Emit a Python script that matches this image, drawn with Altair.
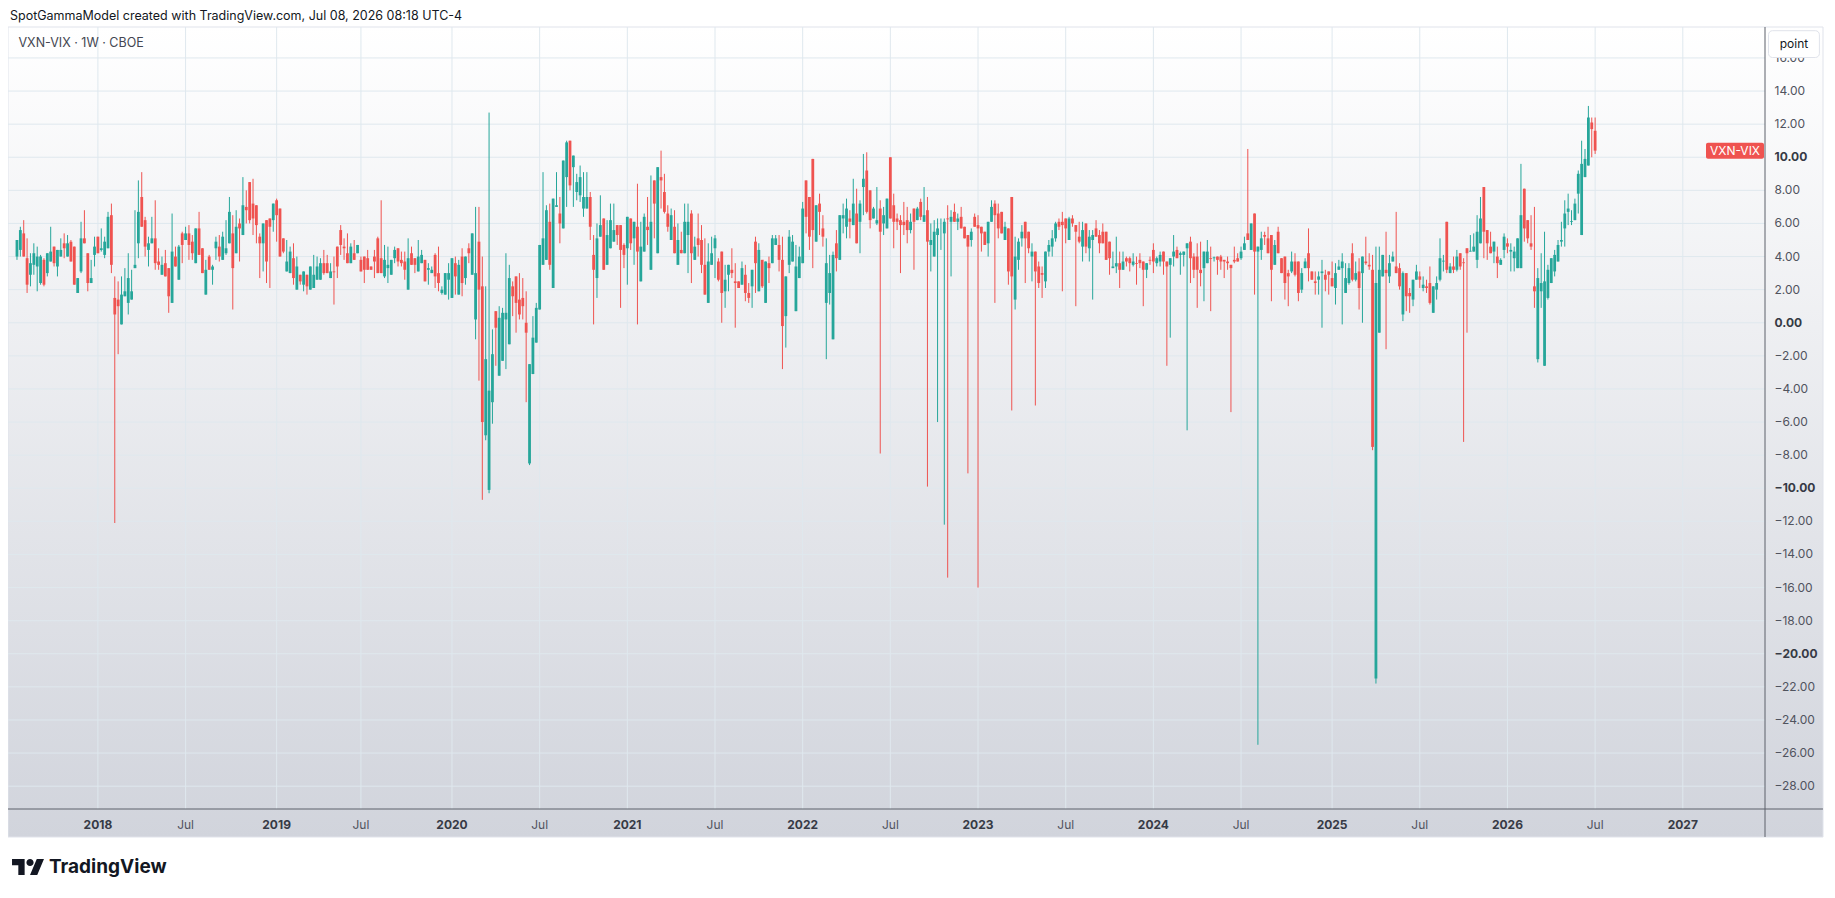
import altair as alt
import pandas as pd

FIRST_BAR = "2017-07-17"   # weekly bars (Mondays)

OPEN = [
 4.0, 4.4, 5.4, 3.9, 2.9, 3.5, 3.4, 2.4, 3.8, 3.0,
 3.7, 4.6, 3.4, 4.0, 4.8, 4.0, 4.9, 4.6, 1.8, 3.1,
 5.1, 4.2, 2.4, 4.1, 5.2, 4.4, 4.1, 4.5, 6.5, 1.5,
 1.4, -0.1, 1.6, 1.2, 1.4, 3.3, 4.8, 7.6, 6.2, 4.4,
 4.8, 5.1, 3.7, 2.9, 3.6, 3.3, 1.2, 4.0, 2.6, 5.4,
 5.0, 5.4, 4.9, 3.6, 5.7, 4.5, 1.7, 4.0, 3.2, 4.5,
 4.6, 3.8, 4.2, 4.8, 5.4, 4.2, 6.0, 5.3, 7.0, 8.5,
 7.2, 7.1, 5.2, 4.8, 6.2, 6.3, 6.2, 7.4, 6.9, 5.1,
 3.1, 3.0, 3.9, 2.0, 2.9, 2.3, 2.9, 2.0, 2.1, 2.6,
 2.6, 3.6, 3.6, 2.7, 3.1, 4.6, 5.6, 4.6, 4.2, 3.6,
 4.2, 4.2, 3.8, 4.0, 3.9, 3.4, 4.0, 5.1, 3.9, 2.8,
 3.3, 2.9, 3.9, 4.5, 3.8, 3.7, 2.0, 4.2, 3.9, 3.1,
 3.6, 3.8, 3.2, 3.0, 4.1, 3.0, 1.8, 1.7, 2.6, 1.5,
 3.6, 1.7, 4.0, 2.7, 4.5, 2.9, 0.2, 4.9, 2.2, -6.8,
 -10.1, -4.8, 0.7, -3.2, -2.3, 0.2, -1.3, 2.2, 2.8, 1.4,
 1.5, 0.0, -8.5, -3.1, -1.2, 0.8, 3.5, 3.8, 6.1, 2.1,
 7.0, 6.6, 5.7, 8.8, 11.0, 9.4, 7.9, 7.7, 6.9, 6.9,
 7.6, 4.1, 2.7, 5.2, 6.3, 3.5, 4.5, 4.9, 5.9, 5.9,
 4.7, 4.5, 6.3, 5.1, 5.8, 2.5, 4.3, 5.8, 3.2, 8.6,
 4.2, 8.8, 7.9, 6.6, 5.0, 5.8, 3.5, 4.4, 4.2, 5.3,
 6.6, 3.8, 5.1, 5.0, 3.5, 1.2, 3.5, 4.5, 3.7, 4.3,
 1.9, 2.9, 3.2, 2.5, 2.5, 2.3, 2.9, 1.8, 2.2, 4.9,
 1.9, 3.8, 1.2, 3.6, 3.6, 4.7, 4.7, 3.8, 0.4, 3.5,
 3.7, 0.7, 2.7, 3.6, 8.6, 7.6, 9.9, 4.9, 7.2, 5.7,
 1.2, 1.8, -1.0, 4.8, 3.8, 6.3, 5.8, 6.3, 5.9, 6.6,
 6.1, 8.2, 9.2, 8.0, 6.3, 6.0, 6.9, 6.0, 5.7, 10.0,
 7.1, 6.3, 6.2, 6.1, 6.2, 5.6, 6.9, 6.2, 7.3, 6.1,
 6.8, 4.7, 4.0, 5.3, 5.5, 5.4, 6.3, 6.1, 6.7, 6.1,
 6.4, 5.8, 5.3, 5.0, 6.4, 5.9, 5.8, 5.5, 4.8, 6.1,
 7.2, 6.6, 6.7, 5.0, 5.7, 7.6, 1.4, 3.8, 5.1, 6.1,
 5.5, 4.0, 4.3, 3.4, 3.0, 2.5, 4.3, 4.6, 5.1, 6.1,
 6.1, 6.3, 5.0, 6.3, 5.9, 5.2, 4.6, 6.0, 4.5, 5.0,
 5.7, 5.3, 5.5, 5.5, 4.9, 3.3, 3.4, 3.6, 3.2, 3.9,
 3.9, 3.5, 3.6, 3.8, 3.7, 3.2, 3.8, 4.4, 3.6, 3.7,
 4.3, 3.7, 3.5, 4.0, 4.4, 4.1, 4.1, 4.5, 4.9, 4.0,
 4.0, 3.2, 3.3, 3.6, 3.9, 3.9, 4.0, 4.0, 3.8, 3.7,
 3.5, 3.8, 3.9, 3.9, 4.4, 5.4, 4.4, 6.6, 4.3, 4.4,
 5.3, 5.1, 5.3, 3.5, 5.5, 3.9, 4.0, 3.0, 3.1, 3.7,
 3.7, 2.0, 3.3, 4.2, 3.1, 2.5, 2.6, 3.0, 2.9, 3.1,
 2.7, 2.1, 3.2, 3.3, 1.8, 2.4, 4.2, 2.6, 3.1, 3.0,
 3.7, 3.5, 3.2, -21.5, -0.6, 2.8, 3.2, 2.8, 3.7, 3.4,
 3.3, 0.5, 3.0, 1.8, 1.4, 2.6, 2.8, 2.1, 2.2, 2.4,
 0.6, 2.0, 2.6, 3.7, 6.1, 3.0, 3.4, 3.2, 4.2, 3.65,
 4.5, 4.3, 4.3, 3.8, 4.8, 8.2, 5.6, 4.6, 4.3, 4.0,
 3.5, 4.4, 4.8, 4.3, 3.9, 3.3, 3.3, 8.1, 6.2, 4.8,
 2.2, -2.2, 1.9, -2.6, 1.5, 2.4, 3.1, 3.7, 4.9, 5.7,
 6.7, 6.1, 6.2, 7.8, 5.3, 8.8, 9.5, 12.1, 11.6,
]

HIGH = [
 5.0, 5.8, 6.2, 5.1, 4.2, 4.8, 4.6, 4.1, 3.9, 4.2,
 5.8, 4.6, 4.4, 5.1, 5.4, 5.3, 5.0, 4.6, 2.7, 6.1,
 6.8, 4.2, 3.8, 5.2, 5.2, 5.7, 5.2, 6.7, 7.2, 2.8,
 2.5, 2.8, 3.3, 4.2, 3.2, 6.8, 8.6, 9.1, 6.4, 5.2,
 6.4, 7.4, 4.5, 4.0, 4.4, 3.3, 6.6, 4.6, 4.7, 5.5,
 5.8, 5.9, 5.3, 5.7, 6.7, 4.5, 3.8, 4.1, 3.5, 5.2,
 5.3, 5.5, 6.2, 7.6, 6.5, 6.8, 6.3, 8.8, 8.0, 8.5,
 8.7, 7.1, 5.4, 6.0, 6.2, 6.3, 7.2, 7.5, 6.9, 5.1,
 5.0, 4.6, 4.8, 4.0, 2.9, 3.1, 2.9, 3.4, 4.1, 4.0,
 3.9, 4.4, 4.1, 3.6, 4.0, 4.6, 5.9, 5.1, 5.4, 4.8,
 5.0, 4.7, 4.0, 4.0, 4.4, 3.4, 4.4, 5.2, 7.4, 4.7,
 4.6, 3.8, 4.6, 4.5, 4.3, 4.3, 5.1, 4.6, 3.9, 5.0,
 4.4, 3.8, 3.6, 3.4, 4.2, 4.6, 2.2, 3.0, 3.6, 3.9,
 4.0, 3.8, 4.5, 4.0, 4.8, 5.4, 7.0, 7.0, 4.0, 2.2,
 12.7, -0.4, 0.7, 1.0, 0.9, 4.2, 3.5, 2.5, 2.8, 3.0,
 2.7, 1.9, -2.5, 0.4, 1.2, 4.7, 9.1, 7.1, 7.2, 7.5,
 9.1, 7.6, 9.8, 11.0, 11.0, 10.1, 9.0, 9.5, 9.1, 9.1,
 7.9, 5.3, 6.0, 7.7, 6.3, 6.2, 7.2, 7.2, 5.9, 5.9,
 4.8, 6.4, 6.3, 6.1, 8.4, 6.1, 6.6, 7.6, 8.9, 8.6,
 9.4, 10.4, 9.0, 7.1, 6.9, 6.8, 6.0, 5.5, 7.2, 7.2,
 6.8, 5.2, 6.6, 5.9, 5.1, 4.8, 5.2, 5.3, 3.9, 4.3,
 3.5, 3.5, 4.5, 3.6, 2.5, 3.7, 3.5, 2.4, 3.2, 5.2,
 4.8, 3.8, 3.7, 4.0, 5.3, 5.3, 5.3, 5.2, 2.8, 5.6,
 5.3, 4.7, 4.6, 7.3, 8.6, 7.6, 9.9, 7.1, 7.8, 6.5,
 5.1, 4.1, 4.3, 5.6, 6.5, 7.2, 7.5, 6.8, 8.7, 8.1,
 7.4, 10.2, 10.3, 8.0, 7.0, 8.2, 7.4, 7.0, 7.5, 10.0,
 7.8, 6.6, 6.5, 7.3, 7.0, 6.6, 6.9, 7.0, 7.5, 8.2,
 7.6, 6.0, 6.2, 6.3, 6.3, 6.3, 7.1, 6.8, 7.2, 6.6,
 7.0, 5.8, 5.3, 5.7, 6.6, 6.5, 5.8, 5.5, 6.1, 7.4,
 7.4, 7.2, 6.7, 6.1, 5.7, 7.6, 5.2, 5.1, 5.9, 6.1,
 5.5, 4.8, 4.3, 3.7, 3.4, 4.3, 5.0, 5.6, 6.1, 6.3,
 6.7, 6.3, 6.4, 6.5, 5.9, 6.1, 6.1, 6.0, 5.6, 5.6,
 6.2, 5.6, 6.0, 5.5, 4.9, 4.3, 5.2, 4.3, 4.3, 4.0,
 4.0, 4.2, 4.0, 4.2, 3.7, 3.6, 4.0, 4.8, 4.0, 4.3,
 4.3, 3.7, 3.9, 5.3, 4.6, 4.3, 4.3, 4.8, 5.2, 4.2,
 4.8, 4.9, 4.3, 5.0, 4.6, 4.0, 4.0, 4.1, 3.8, 4.0,
 3.5, 4.6, 4.2, 4.6, 5.2, 10.5, 6.0, 6.6, 4.6, 5.5,
 5.5, 5.8, 5.3, 5.0, 5.8, 3.9, 4.0, 3.2, 4.3, 4.2,
 3.7, 3.3, 3.9, 5.7, 3.1, 3.1, 3.1, 3.8, 3.2, 3.1,
 3.7, 3.6, 3.8, 4.2, 3.6, 3.6, 4.8, 3.7, 3.9, 4.0,
 5.2, 4.2, 4.1, 4.6, 4.6, 4.1, 5.5, 4.1, 4.3, 6.7,
 3.6, 3.1, 3.0, 2.1, 2.6, 3.5, 3.1, 2.8, 2.6, 3.4,
 2.2, 2.8, 5.1, 4.1, 6.1, 3.6, 4.0, 4.4, 4.2, 3.9,
 4.5, 5.3, 5.4, 6.5, 7.6, 8.2, 5.6, 5.5, 4.9, 4.6,
 3.9, 5.4, 5.1, 4.8, 4.6, 5.1, 9.6, 8.1, 6.2, 6.5,
 7.0, 3.3, 4.2, 5.5, 3.5, 3.9, 4.4, 5.0, 6.1, 7.4,
 7.8, 6.8, 7.5, 9.2, 11.0, 10.5, 13.1, 12.4, 12.4,
]

LOW = [
 3.8, 4.0, 4.0, 1.8, 2.2, 2.9, 1.9, 2.3, 2.2, 2.8,
 3.7, 3.4, 2.8, 4.0, 3.9, 4.0, 3.7, 2.3, 1.8, 3.0,
 4.8, 1.9, 2.4, 3.4, 4.2, 4.3, 3.9, 4.5, 3.0, -12.1,
 -1.9, -0.1, 1.6, 0.5, 1.4, 3.3, 3.9, 5.8, 4.0, 3.4,
 4.8, 3.2, 3.2, 2.9, 2.8, 0.6, 1.2, 3.4, 2.6, 3.6,
 5.0, 3.8, 3.8, 3.6, 4.1, 3.0, 1.7, 3.2, 2.3, 3.8,
 3.7, 3.8, 4.1, 4.8, 0.8, 4.2, 3.7, 5.3, 6.0, 6.0,
 5.3, 4.8, 2.7, 3.1, 2.4, 2.1, 5.5, 4.9, 4.0, 4.2,
 3.1, 3.0, 2.3, 2.0, 2.3, 1.9, 1.7, 2.0, 2.1, 2.6,
 2.6, 2.9, 3.0, 2.7, 1.1, 2.7, 4.1, 3.8, 3.6, 3.6,
 3.8, 4.2, 3.1, 2.4, 3.2, 3.2, 2.7, 3.0, 3.0, 2.7,
 2.4, 2.9, 3.6, 3.4, 3.4, 2.6, 2.0, 3.5, 3.0, 3.1,
 3.6, 2.5, 2.3, 3.0, 2.1, 1.9, 1.7, 1.7, 1.4, 1.5,
 1.7, 1.7, 1.6, 2.3, 3.6, 2.9, -1.0, -3.5, -10.7, -7.1,
 -10.3, -6.1, -2.6, -3.2, -2.3, -2.8, -1.3, 0.4, -0.6, 0.2,
 0.2, -4.8, -8.6, -3.1, -1.2, 0.8, 3.5, 3.8, 3.2, 2.1,
 7.0, 4.8, 5.7, 7.0, 8.0, 7.0, 7.4, 7.3, 6.4, 6.9,
 5.0, -0.1, 1.5, 5.2, 3.2, 3.5, 4.5, 4.9, 4.7, 0.9,
 3.3, 2.3, 4.4, 3.5, -0.1, 2.5, 4.3, 4.7, 3.2, 5.1,
 4.2, 6.9, 6.6, 5.5, 5.0, 4.2, 3.5, 4.2, 4.2, 3.0,
 2.4, 3.8, 4.0, 3.0, 1.7, 1.2, 3.5, 2.7, 2.5, 0.0,
 0.9, 1.9, 2.7, -0.3, 2.1, 2.3, 1.3, 1.2, 0.9, 1.8,
 1.9, 2.1, 1.2, 2.4, 3.6, 4.7, 3.1, -2.8, -1.5, 3.0,
 3.7, 0.7, 2.7, 3.6, 5.4, 4.4, 3.3, 4.9, 5.3, 4.6,
 -2.2, 1.1, -1.0, 3.1, 3.8, 5.4, 5.1, 5.1, 5.9, 4.8,
 4.2, 6.5, 6.6, 5.7, 6.3, 5.9, -7.9, 5.3, 5.7, 6.3,
 4.5, 5.6, 3.0, 5.3, 4.8, 5.4, 3.2, 6.2, 6.2, 6.1,
 -9.9, 3.1, 4.0, -6.0, 4.4, -12.2, -15.4, 2.8, 6.1, 5.6,
 5.7, 5.1, -9.1, 4.6, 5.8, -16.0, 4.3, 4.7, 4.0, 6.1,
 1.2, 5.1, 5.4, 5.0, 2.3, -5.3, 0.8, 3.2, 4.6, 2.4,
 4.2, 2.5, -5.0, 2.1, 1.5, 2.1, 4.0, 4.0, 4.9, 5.6,
 1.9, 4.8, 5.0, 5.8, 1.0, 4.8, 3.7, 4.2, 3.7, 1.4,
 5.2, 4.2, 4.8, 3.8, 2.9, 3.3, 3.0, 2.1, 3.2, 3.4,
 3.1, 3.4, 2.3, 3.3, 1.0, 2.7, 3.5, 3.0, 3.4, 3.4,
 2.9, -2.6, -0.9, 3.4, 3.9, 2.9, 3.4, -6.5, 2.4, 2.7,
 0.9, 2.2, 1.3, 3.6, 0.7, 3.7, 2.9, 3.2, 2.7, 3.2,
 -5.4, 3.6, 3.7, 3.8, 4.4, 5.0, 4.4, 1.7, -25.5, 3.8,
 4.7, 4.2, 1.3, 3.5, 4.2, 3.0, 1.4, 1.0, 3.0, 2.8,
 1.3, 1.8, 3.3, 2.5, 2.6, 1.7, 1.7, -0.3, 1.9, 1.7,
 2.2, 1.1, 3.2, -0.1, 1.8, 2.3, 2.5, 2.5, 0.8, 0.0,
 3.5, 3.2, -7.7, -21.8, -0.6, 2.8, -1.6, 2.4, 3.7, 3.0,
 2.0, 0.1, 0.7, 0.6, 1.0, 2.6, 2.1, 1.9, 1.8, 1.1,
 0.6, 1.4, 2.5, 3.1, 3.0, 3.0, 3.0, 3.1, 3.2, -7.2,
 -0.6, 4.3, 4.3, 3.3, 4.8, 3.9, 3.8, 4.2, 3.6, 2.7,
 3.5, 3.9, 4.2, 3.1, 3.1, 3.3, 3.3, 4.9, 4.8, 4.4,
 0.9, -2.4, 0.9, -2.6, 1.4, 2.4, 2.8, 3.7, 4.6, 4.6,
 5.9, 5.9, 6.2, 6.6, 5.3, 8.8, 9.5, 10.0, 10.2,
]

CLOSE = [
 5.0, 5.6, 4.0, 2.3, 3.6, 4.2, 4.0, 4.0, 2.3, 4.2,
 4.3, 3.6, 4.4, 4.4, 4.5, 4.8, 3.7, 2.3, 2.7, 5.1,
 4.8, 2.4, 2.7, 4.6, 4.2, 4.5, 4.9, 6.4, 3.5, 0.5,
 1.0, 1.7, 1.9, 2.7, 1.9, 3.5, 6.7, 5.8, 4.6, 4.8,
 5.1, 3.6, 3.5, 3.5, 2.8, 1.6, 4.3, 3.4, 4.6, 4.7,
 5.4, 4.7, 4.2, 5.7, 4.1, 3.0, 3.2, 3.2, 3.4, 4.9,
 4.0, 5.2, 4.5, 6.7, 3.3, 5.8, 5.7, 7.1, 6.8, 6.2,
 6.3, 5.9, 4.8, 6.0, 3.7, 5.8, 7.2, 6.5, 4.0, 4.3,
 3.7, 4.3, 2.7, 3.4, 2.5, 3.1, 2.2, 3.4, 2.9, 3.4,
 3.6, 3.0, 3.0, 3.1, 3.05, 3.4, 4.7, 4.5, 3.6, 4.6,
 3.8, 4.7, 3.1, 3.2, 3.2, 3.2, 3.7, 3.0, 3.0, 3.8,
 3.5, 3.8, 4.4, 3.7, 3.6, 3.2, 3.9, 3.5, 3.5, 4.0,
 4.1, 2.5, 3.3, 3.2, 2.8, 2.4, 2.0, 3.0, 3.0, 3.9,
 2.8, 3.5, 2.4, 4.0, 4.2, 5.4, 3.0, 2.0, -6.0, -2.2,
 -4.1, -1.9, -0.3, 0.3, 0.6, 0.6, 2.7, 1.6, 1.2, 0.5,
 1.0, -0.6, -2.5, -0.9, 0.9, 4.7, 5.1, 6.8, 3.5, 7.5,
 7.1, 6.0, 9.8, 10.9, 8.3, 10.1, 8.5, 8.8, 7.6, 7.6,
 5.8, 3.2, 5.1, 5.9, 3.2, 5.3, 6.2, 5.6, 5.3, 4.4,
 4.1, 6.4, 4.8, 6.1, 4.3, 4.6, 6.4, 5.6, 6.1, 7.2,
 9.4, 8.6, 6.7, 5.8, 6.5, 4.2, 5.0, 4.2, 6.1, 6.1,
 4.2, 4.6, 4.7, 3.5, 1.7, 3.7, 4.2, 5.1, 2.6, 1.8,
 2.6, 3.5, 3.0, 2.4, 2.1, 3.3, 1.8, 1.5, 3.2, 3.6,
 4.4, 2.2, 3.7, 3.3, 5.1, 5.1, 3.8, -0.2, 2.8, 5.2,
 4.9, 3.4, 4.0, 6.9, 6.4, 5.2, 5.6, 7.1, 6.7, 5.2,
 3.6, 3.0, 4.1, 3.9, 6.5, 6.5, 6.9, 6.1, 7.2, 4.8,
 7.2, 8.7, 6.7, 6.2, 6.9, 6.2, 5.5, 6.5, 7.5, 6.3,
 6.1, 6.1, 5.9, 5.9, 5.6, 6.1, 6.1, 6.9, 6.4, 6.5,
 4.9, 5.0, 5.5, 5.7, 5.5, 6.1, 6.25, 6.4, 6.1, 6.3,
 5.7, 5.1, 4.6, 5.5, 5.8, 5.7, 5.4, 4.7, 6.1, 7.0,
 6.5, 5.7, 5.4, 5.8, 3.1, 2.8, 4.0, 4.9, 5.5, 5.1,
 4.5, 4.3, 3.1, 2.4, 2.9, 4.3, 4.7, 5.1, 6.0, 5.8,
 5.9, 5.7, 6.3, 6.0, 5.5, 4.9, 5.6, 4.6, 5.2, 5.3,
 5.2, 4.8, 4.8, 3.8, 3.9, 3.4, 3.6, 3.2, 3.7, 3.7,
 3.6, 3.7, 3.55, 3.6, 3.2, 3.6, 3.75, 3.7, 3.9, 4.1,
 3.7, 3.4, 3.9, 4.3, 3.9, 4.2, 4.3, 4.8, 3.9, 3.2,
 3.2, 3.0, 4.3, 4.3, 3.85, 3.95, 3.8, 3.7, 3.7, 3.6,
 3.3, 3.7, 3.7, 4.3, 4.8, 5.0, 6.0, 4.3, 4.6, 5.1,
 5.2, 4.2, 3.2, 4.7, 4.2, 3.0, 2.4, 2.8, 3.7, 2.9,
 1.8, 3.0, 3.7, 3.3, 2.6, 2.4, 2.8, 3.1, 2.6, 2.9,
 2.2, 3.0, 3.4, 3.7, 2.7, 3.3, 2.6, 3.0, 2.1, 4.0,
 3.6, 3.4, -7.5, 2.4, 3.2, 4.1, 3.0, 3.6, 4.0, 3.0,
 2.2, 3.0, 1.6, 1.6, 2.6, 3.1, 2.6, 2.3, 2.1, 1.2,
 2.2, 2.4, 3.9, 3.75, 3.2, 3.4, 3.2, 4.0, 3.4, 3.6,
 4.2, 4.35, 4.6, 5.5, 6.3, 5.5, 4.8, 4.2, 4.9, 3.6,
 3.8, 5.2, 4.6, 4.4, 4.3, 5.1, 6.5, 5.7, 5.1, 4.6,
 1.9, 2.7, 2.4, 2.5, 3.2, 3.9, 4.1, 4.7, 5.0, 6.6,
 6.9, 6.15, 7.2, 9.0, 9.6, 9.9, 12.4, 11.7, 10.4,
]

GRID_PRICES = list(range(-28, 18, 2))      # horizontal grid lines
PRICE_LABELS = list(range(-28, 17, 2))     # price scale labels
TIME_TICKS = [
    "2018-01-01", "2018-07-02", "2019-01-07", "2019-07-01", "2020-01-06",
    "2020-07-06", "2021-01-04", "2021-07-05", "2022-01-03", "2022-07-04",
    "2023-01-02", "2023-07-03", "2024-01-01", "2024-07-01", "2025-01-06",
    "2025-07-07", "2026-01-05", "2026-07-06", "2027-01-04",
]
TIME_LABELS = [
    "2018", "Jul", "2019", "Jul", "2020", "Jul", "2021", "Jul", "2022", "Jul",
    "2023", "Jul", "2024", "Jul", "2025", "Jul", "2026", "Jul", "2027",
]
X_DOMAIN = ["2017-07-08T18:00:00", "2027-06-13T06:00:00"]
Y_DOMAIN = [-29.38, 17.87]

SYMBOL = "VXN-VIX"
LEGEND = "VXN-VIX · 1W · CBOE"
HEADER = "SpotGammaModel created with TradingView.com, Jul 08, 2026 08:18 UTC-4"

assert len(OPEN) == len(HIGH) == len(LOW) == len(CLOSE)

GREEN = "#26a69a"
RED = "#ef5350"
GRID = "#dfe8ee"
AXIS_LINE = "#5d606b"
TXT = "#131722"
LBL = "#50535e"
LBL_BOLD = "#363a45"
FONT = "Inter"

W, H = 1757, 782          # plot area
PW, PH = 1815, 810        # whole panel incl. axes


def ms(s):
    return int(pd.Timestamp(s, tz="UTC").value // 10**6)


dates = pd.date_range(FIRST_BAR, periods=len(CLOSE), freq="7D", tz="UTC")
df = pd.DataFrame({
    "t": [int(d.value // 10**6) for d in dates],
    "open": OPEN, "high": HIGH, "low": LOW, "close": CLOSE,
})
df["top"] = df[["open", "close"]].max(axis=1)
df["bot"] = df[["open", "close"]].min(axis=1)
df["hi"] = df[["high", "top"]].max(axis=1)
df["lo"] = df[["low", "bot"]].min(axis=1)
df["dir"] = ["up" if c >= o else "down" for o, c in zip(OPEN, CLOSE)]

xs = alt.Scale(type="utc", domain=[ms(X_DOMAIN[0]), ms(X_DOMAIN[1])], nice=False)
ys = alt.Scale(domain=Y_DOMAIN, nice=False, zero=False)
color = alt.Color("dir:N", scale=alt.Scale(domain=["up", "down"], range=[GREEN, RED]), legend=None)

one = pd.DataFrame({"a": [0]})

gradient = {
    "gradient": "linear", "x1": 0, "y1": 0, "x2": 0, "y2": 1,
    "stops": [{"offset": 0, "color": "#ffffff"}, {"offset": 1, "color": "#d1d4dc"}],
}
bg = alt.Chart(one).mark_rect(fill=gradient, stroke="#e0e3eb", strokeWidth=1).encode(
    x=alt.value(0), x2=alt.value(PW), y=alt.value(0), y2=alt.value(PH))

hgrid = alt.Chart(pd.DataFrame({"v": GRID_PRICES})).mark_rule(color=GRID, strokeWidth=1).encode(
    y=alt.Y("v:Q", scale=ys, axis=None), x=alt.value(0), x2=alt.value(W))
tdf = pd.DataFrame({"t": [ms(t) for t in TIME_TICKS], "label": TIME_LABELS})
tdf["major"] = tdf["label"] != "Jul"
vgrid = alt.Chart(tdf).mark_rule(color=GRID, strokeWidth=1).encode(
    x=alt.X("t:T", scale=xs, axis=None), y=alt.value(0), y2=alt.value(H))

wicks = alt.Chart(df).mark_rule(strokeWidth=1).encode(
    x=alt.X("t:T", scale=xs, axis=None),
    y=alt.Y("lo:Q", scale=ys, axis=None), y2="hi:Q", color=color)
bodies = alt.Chart(df).mark_bar(width=2.8).encode(
    x=alt.X("t:T", scale=xs, axis=None),
    y=alt.Y("bot:Q", scale=ys, axis=None), y2="top:Q", color=color)

x_line = alt.Chart(one).mark_rule(color=AXIS_LINE, strokeWidth=1).encode(
    x=alt.value(0), x2=alt.value(PW), y=alt.value(H))
y_line = alt.Chart(one).mark_rule(color=AXIS_LINE, strokeWidth=1).encode(
    x=alt.value(W), y=alt.value(0), y2=alt.value(PH))

# time scale labels
x_lab_major = alt.Chart(tdf[tdf["major"]]).mark_text(
    font=FONT, fontSize=12, fontWeight="bold", color=LBL_BOLD, baseline="middle").encode(
    x=alt.X("t:T", scale=xs, axis=None), y=alt.value(H + 15.7), text="label:N")
x_lab_minor = alt.Chart(tdf[~tdf["major"]]).mark_text(
    font=FONT, fontSize=12, color=LBL, baseline="middle").encode(
    x=alt.X("t:T", scale=xs, axis=None), y=alt.value(H + 15.7), text="label:N")

# price scale labels
pdf = pd.DataFrame({"v": PRICE_LABELS})
pdf["label"] = [f"{v:.2f}".replace("-", "\u2212") for v in PRICE_LABELS]
pdf["major"] = [v % 10 == 0 for v in PRICE_LABELS]
y_lab_major = alt.Chart(pdf[pdf["major"]]).mark_text(
    font=FONT, fontSize=12, fontWeight="bold", color=LBL_BOLD, align="left", baseline="middle").encode(
    y=alt.Y("v:Q", scale=ys, axis=None), x=alt.value(W + 9.5), text="label:N")
y_lab_minor = alt.Chart(pdf[~pdf["major"]]).mark_text(
    font=FONT, fontSize=12, color=LBL, align="left", baseline="middle").encode(
    y=alt.Y("v:Q", scale=ys, axis=None), x=alt.value(W + 9.5), text="label:N")

last = df.tail(1)
tag = alt.Chart(last).mark_rect(fill=RED, cornerRadius=2, yOffset=-8, y2Offset=8).encode(
    x=alt.value(1698), x2=alt.value(1756),
    y=alt.Y("close:Q", scale=ys, axis=None), y2="close:Q")
tag_text = alt.Chart(last).mark_text(color="white", font=FONT, fontSize=12).encode(
    x=alt.value(1727), y=alt.Y("close:Q", scale=ys, axis=None), text=alt.value(SYMBOL))

unit_box = alt.Chart(one).mark_rect(fill="white", stroke="#e0e3eb", strokeWidth=1, cornerRadius=4).encode(
    x=alt.value(1760.5), x2=alt.value(1811.4), y=alt.value(3.7), y2=alt.value(30.5))
unit_text = alt.Chart(one).mark_text(font=FONT, fontSize=12, color=TXT).encode(
    x=alt.value(1786), y=alt.value(17), text=alt.value("point"))

header = alt.Chart(one).mark_text(align="left", baseline="middle", font=FONT, fontSize=12.5, color=TXT).encode(
    x=alt.value(2), y=alt.value(-11.5), text=alt.value(HEADER))
legend = alt.Chart(one).mark_text(align="left", baseline="middle", font=FONT, fontSize=12.5, color="#434651").encode(
    x=alt.value(10.5), y=alt.value(15.7), text=alt.value(LEGEND))

LOGO = ("M-3.75 9 H-10.75 V-2 H-17.75 V-9 H-3.75 Z "
        "M10.25 9 H2.25 L9.75 -9 H17.75 Z "
        "M6.25 -5 A4 4 0 1 0 -1.75 -5 A4 4 0 1 0 6.25 -5 Z")
logo = alt.Chart(one).mark_point(shape=LOGO, filled=True, color=TXT, size=3.24, opacity=1, strokeWidth=0).encode(
    x=alt.value(20), y=alt.value(840))
logo_text = alt.Chart(one).mark_text(align="left", baseline="middle", font=FONT, fontSize=19,
                                     fontWeight="bold", color=TXT).encode(
    x=alt.value(41), y=alt.value(840), text=alt.value("TradingView"))

chart = alt.layer(
    bg, hgrid, vgrid, wicks, bodies, x_line, y_line,
    x_lab_major, x_lab_minor, y_lab_major, y_lab_minor,
    tag, tag_text, unit_box, unit_text, header, legend, logo, logo_text,
).properties(
    width=W, height=H,
    autosize=alt.AutoSizeParams(type="none"),
    padding={"left": 0, "top": 19, "right": 60, "bottom": 78},
    background="white",
).configure_view(stroke=None)

chart.save("out.html", embed_options={"renderer": "svg", "actions": False})
